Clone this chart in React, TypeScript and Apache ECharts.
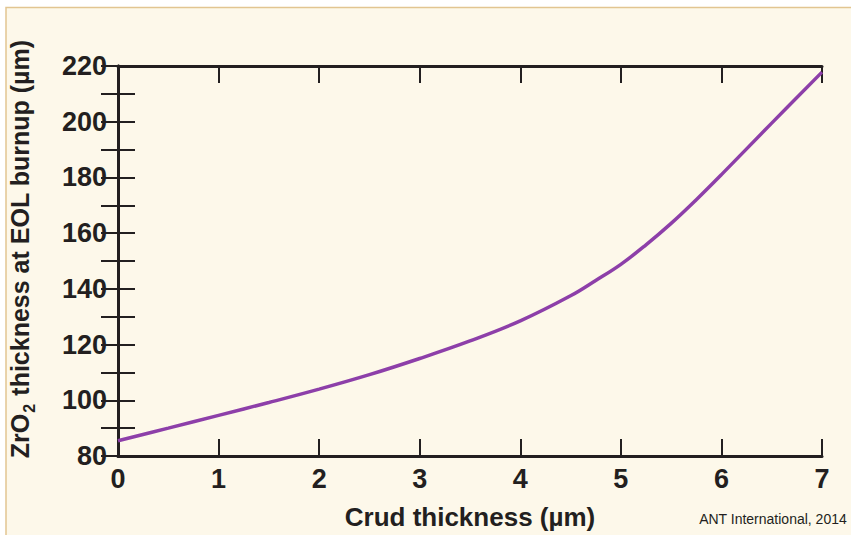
import React, { useEffect, useRef } from "react";
import * as echarts from "echarts";

const crudThickness = [0, 0.5, 1, 1.5, 2, 2.5, 3, 3.5, 4, 4.5, 4.75, 5, 5.25, 5.5, 5.75, 6, 6.5, 7];
const zro2Thickness = [85.5, 90, 94.6, 99.2, 104, 109.2, 115, 121.3, 128.5, 137.5, 143, 148.8, 155.8, 163.5, 172, 181, 199.5, 217.8];
const xTicks = [0, 1, 2, 3, 4, 5, 6, 7];
const yLabelTicks = [80, 100, 120, 140, 160, 180, 200, 220];

const FONT = '"Liberation Sans", Arial, sans-serif';
const INK = "#231f20";

export default function App() {
  const ref = useRef<HTMLDivElement>(null);
  useEffect(() => {
    if (!ref.current) return;
    const chart = echarts.init(ref.current, undefined, { renderer: "svg" });
    const points = crudThickness.map((x, i) => [x, zro2Thickness[i]]);
    const axisLine = { show: true, lineStyle: { color: INK, width: 3 } };
    const tick = { show: true, inside: true, length: 17, lineStyle: { color: INK, width: 2 } };
    chart.setOption({
      animation: false,
      backgroundColor: "#ffffff",
      graphic: [
        {
          type: "rect",
          z: -10,
          silent: true,
          shape: { x: 6, y: 7.5, width: 860, height: 540 },
          style: { fill: "#fdf8ea", stroke: "#e2c591", lineWidth: 1.5 },
        },
        {
          type: "text",
          right: 4,
          top: 512,
          style: {
            text: "ANT International, 2014",
            fontFamily: FONT,
            fontSize: 14,
            fill: INK,
          },
        },
      ],
      grid: { left: 118, right: 29, top: 66, bottom: 79, outerBoundsMode: "none", containLabel: false },
      xAxis: [
        {
          type: "value",
          min: xTicks[0],
          max: xTicks[xTicks.length - 1],
          interval: 1,
          position: "bottom",
          name: "Crud thickness (µm)",
          nameLocation: "middle",
          nameGap: 48,
          nameTextStyle: { fontFamily: FONT, fontSize: 26, fontWeight: "bold", color: INK },
          axisLine,
          axisTick: tick,
          splitLine: { show: false },
          axisLabel: {
            margin: 9,
            fontFamily: FONT,
            fontSize: 27,
            fontWeight: "bold",
            color: INK,
            formatter: (v: number) => (xTicks.includes(v) ? String(v) : ""),
          },
        },
        {
          type: "value",
          min: xTicks[0],
          max: xTicks[xTicks.length - 1],
          interval: 1,
          position: "top",
          axisLine,
          axisTick: tick,
          splitLine: { show: false },
          axisLabel: { show: false },
        },
      ],
      yAxis: [
        {
          type: "value",
          min: 80,
          max: 220,
          interval: 10,
          position: "left",
          name: "{a|ZrO}{s|2}{a| thickness at EOL burnup (µm)}",
          nameLocation: "middle",
          nameGap: 86,
          nameTextStyle: {
            color: INK,
            padding: [0, 0, 0, 24],
            rich: {
              a: { fontFamily: FONT, fontSize: 25, fontWeight: "bold", color: INK, lineHeight: 29, verticalAlign: "bottom" },
              s: { fontFamily: FONT, fontSize: 16, fontWeight: "bold", color: INK, lineHeight: 29, verticalAlign: "bottom", padding: [0, 1, -5, 1] },
            },
          },
          axisLine,
          axisTick: tick,
          splitLine: { show: false },
          axisLabel: {
            margin: 11,
            fontFamily: FONT,
            fontSize: 27,
            fontWeight: "bold",
            color: INK,
            formatter: (v: number) => (yLabelTicks.includes(v) ? String(v) : ""),
          },
        },
        {
          type: "value",
          min: 80,
          max: 220,
          interval: 10,
          position: "right",
          axisLine,
          axisTick: tick,
          splitLine: { show: false },
          axisLabel: { show: false },
        },
      ],
      series: [
        {
          type: "line",
          data: points,
          smooth: 0.4,
          symbol: "none",
          lineStyle: { color: "#8d3fa9", width: 3.5 },
          z: 5,
        },
      ],
    });
    return () => chart.dispose();
  }, []);
  return (
    <div
      ref={ref}
      style={{ position: "absolute", left: 0, top: 0, width: 851, height: 535 }}
    />
  );
}
